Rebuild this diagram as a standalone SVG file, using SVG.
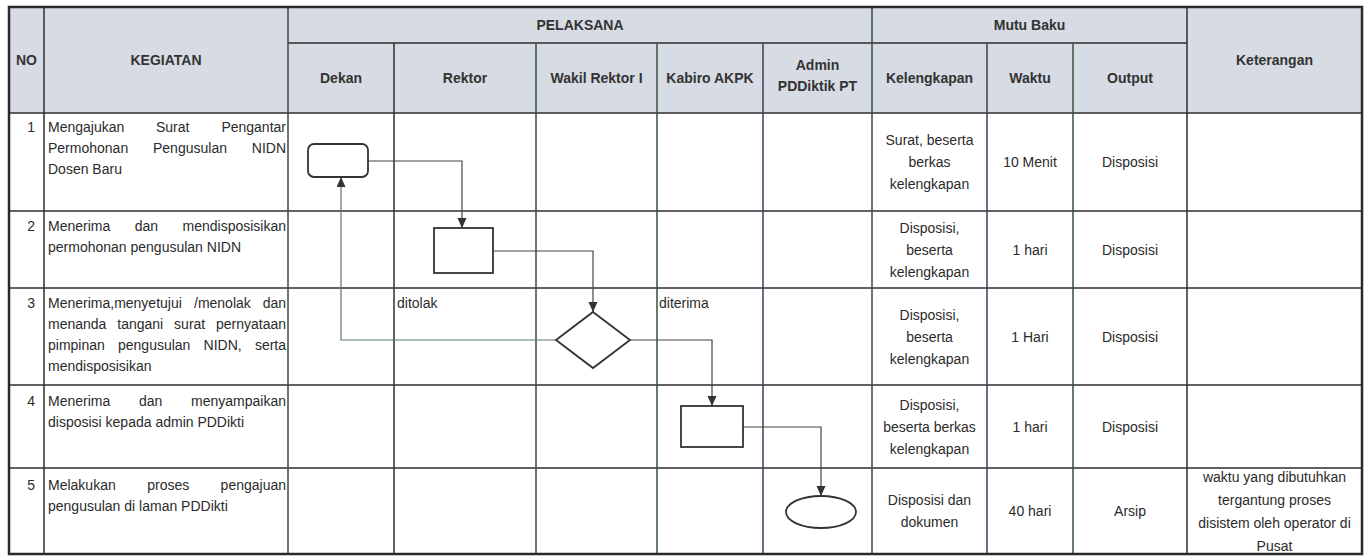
<svg xmlns="http://www.w3.org/2000/svg" width="1367" height="558" viewBox="0 0 1367 558">
<style>
  .t{font-family:"Liberation Sans",Arial,sans-serif;font-size:14px;fill:#2b2b2b}
  .h{font-family:"Liberation Sans",Arial,sans-serif;font-size:14px;font-weight:bold;fill:#333}
  .c{text-anchor:middle}
  .e{text-anchor:end}
  .grid{stroke:#2e2e2e;stroke-width:1.5;fill:none}
  .gg{stroke:#35503d;stroke-width:1.5;fill:none}
  .gp{stroke:#45395a;stroke-width:1.5;fill:none}
  .shape{fill:#fff;stroke:#333;stroke-width:1.8}
  .conn{fill:none;stroke:#444;stroke-width:1.2}
  .back{fill:none;stroke:#5b7b63;stroke-width:1.2}
</style>
<defs>
  <marker id="arr" markerUnits="userSpaceOnUse" markerWidth="10" markerHeight="12" refX="10" refY="4.5" orient="auto">
    <path d="M0,0 L10,4.5 L0,9 z" fill="#333"/>
  </marker>
</defs>
<rect x="0" y="0" width="1367" height="558" fill="#fff"/>
<g id="table">
  <rect x="9" y="7" width="1353" height="106" fill="#d7dbe3"/>
  <rect x="9" y="113" width="1353" height="441" fill="#fff"/>
  <!-- horizontal lines -->
  <line class="grid" x1="288" y1="43" x2="1187" y2="43"/>
  <line class="grid" x1="9" y1="113" x2="1362" y2="113"/>
  <line class="grid" x1="9" y1="211" x2="1362" y2="211"/>
  <line class="grid" x1="9" y1="288" x2="1362" y2="288"/>
  <line class="grid" x1="9" y1="385" x2="1362" y2="385"/>
  <line class="grid" x1="9" y1="468" x2="1362" y2="468"/>
  <!-- vertical lines -->
  <line class="grid" x1="44" y1="7" x2="44" y2="554"/>
  <line class="gg" x1="288" y1="7" x2="288" y2="554"/>
  <line class="grid" x1="394" y1="43" x2="394" y2="554"/>
  <line class="gg" x1="536" y1="43" x2="536" y2="554"/>
  <line class="gg" x1="657" y1="43" x2="657" y2="554"/>
  <line class="gp" x1="763" y1="43" x2="763" y2="554"/>
  <line class="gg" x1="872" y1="7" x2="872" y2="554"/>
  <line class="gp" x1="987" y1="43" x2="987" y2="554"/>
  <line class="gg" x1="1073" y1="43" x2="1073" y2="554"/>
  <line class="grid" x1="1187" y1="7" x2="1187" y2="554"/>
  <rect x="9" y="7" width="1353" height="547" fill="none" stroke="#2a2a2a" stroke-width="2.5"/>
</g>
<g id="header">
  <text class="h c" x="26.5" y="65">NO</text>
  <text class="h c" x="166" y="65">KEGIATAN</text>
  <text class="h c" x="580" y="30">PELAKSANA</text>
  <text class="h c" x="1029.5" y="30">Mutu Baku</text>
  <text class="h c" x="1274.5" y="65">Keterangan</text>
  <text class="h c" x="341" y="83">Dekan</text>
  <text class="h c" x="465" y="83">Rektor</text>
  <text class="h c" x="596.5" y="83">Wakil Rektor I</text>
  <text class="h c" x="710" y="83">Kabiro AKPK</text>
  <text class="h c" x="817.5" y="70">Admin</text>
  <text class="h c" x="817.5" y="91">PDDiktik PT</text>
  <text class="h c" x="929.5" y="83">Kelengkapan</text>
  <text class="h c" x="1030" y="83">Waktu</text>
  <text class="h c" x="1130" y="83">Output</text>
</g>
<g id="row1">
  <text class="t e" x="35" y="132">1</text>
  <text class="t" y="132"><tspan x="48">Mengajukan</tspan><tspan x="156">Surat</tspan><tspan x="286" text-anchor="end">Pengantar</tspan></text>
  <text class="t" y="153"><tspan x="48">Permohonan</tspan><tspan x="153">Pengusulan</tspan><tspan x="286" text-anchor="end">NIDN</tspan></text>
  <text class="t" x="48" y="174">Dosen Baru</text>
  <text class="t c" x="929.5" y="145">Surat, beserta</text>
  <text class="t c" x="929.5" y="167">berkas</text>
  <text class="t c" x="929.5" y="189">kelengkapan</text>
  <text class="t c" x="1030" y="167">10 Menit</text>
  <text class="t c" x="1130" y="167">Disposisi</text>
</g>
<g id="row2">
  <text class="t e" x="35" y="231">2</text>
  <text class="t" y="231"><tspan x="48">Menerima</tspan><tspan x="134.7">dan</tspan><tspan x="286" text-anchor="end">mendisposisikan</tspan></text>
  <text class="t" x="48" y="252">permohonan pengusulan NIDN</text>
  <text class="t c" x="929.5" y="232.5">Disposisi,</text>
  <text class="t c" x="929.5" y="254.5">beserta</text>
  <text class="t c" x="929.5" y="276.5">kelengkapan</text>
  <text class="t c" x="1030" y="254.5">1 hari</text>
  <text class="t c" x="1130" y="254.5">Disposisi</text>
</g>
<g id="row3">
  <text class="t e" x="35" y="308">3</text>
  <text class="t" y="308"><tspan x="48">Menerima,menyetujui</tspan><tspan x="194">/menolak</tspan><tspan x="286" text-anchor="end">dan</tspan></text>
  <text class="t" y="329"><tspan x="48">menanda</tspan><tspan x="117.3">tangani</tspan><tspan x="174.1">surat</tspan><tspan x="286" text-anchor="end">pernyataan</tspan></text>
  <text class="t" y="350"><tspan x="48">pimpinan</tspan><tspan x="118">pengusulan</tspan><tspan x="203.6">NIDN,</tspan><tspan x="286" text-anchor="end">serta</tspan></text>
  <text class="t" x="48" y="371">mendisposisikan</text>
  <text class="t c" x="929.5" y="319.5">Disposisi,</text>
  <text class="t c" x="929.5" y="341.5">beserta</text>
  <text class="t c" x="929.5" y="363.5">kelengkapan</text>
  <text class="t c" x="1030" y="341.5">1 Hari</text>
  <text class="t c" x="1130" y="341.5">Disposisi</text>
</g>
<g id="row4">
  <text class="t e" x="35" y="406">4</text>
  <text class="t" y="406"><tspan x="48">Menerima</tspan><tspan x="139">dan</tspan><tspan x="286" text-anchor="end">menyampaikan</tspan></text>
  <text class="t" x="48" y="427">disposisi kepada admin PDDikti</text>
  <text class="t c" x="929.5" y="409.5">Disposisi,</text>
  <text class="t c" x="929.5" y="431.5">beserta berkas</text>
  <text class="t c" x="929.5" y="453.5">kelengkapan</text>
  <text class="t c" x="1030" y="431.5">1 hari</text>
  <text class="t c" x="1130" y="431.5">Disposisi</text>
</g>
<g id="row5">
  <text class="t e" x="35" y="490">5</text>
  <text class="t" y="490"><tspan x="48">Melakukan</tspan><tspan x="147.2">proses</tspan><tspan x="286" text-anchor="end">pengajuan</tspan></text>
  <text class="t" x="48" y="511">pengusulan di laman PDDikti</text>
  <text class="t c" x="929.5" y="505">Disposisi dan</text>
  <text class="t c" x="929.5" y="527">dokumen</text>
  <text class="t c" x="1030" y="516">40 hari</text>
  <text class="t c" x="1130" y="516">Arsip</text>
  <text class="t c" x="1274.5" y="482">waktu yang dibutuhkan</text>
  <text class="t c" x="1274.5" y="505">tergantung proses</text>
  <text class="t c" x="1274.5" y="528">disistem oleh operator di</text>
  <text class="t c" x="1274.5" y="551">Pusat</text>
</g>
<g id="connectors">
  <path class="conn" d="M368,161 H462 V228" marker-end="url(#arr)"/>
  <path class="conn" d="M493,251 H593 V312" marker-end="url(#arr)"/>
  <path class="back" d="M556,340 H341 V177" marker-end="url(#arr)"/>
  <path class="conn" d="M630,340 H712 V406" marker-end="url(#arr)"/>
  <path class="conn" d="M743,427 H821 V496" marker-end="url(#arr)"/>
  <text class="t" x="397" y="308">ditolak</text>
  <text class="t" x="659" y="308">diterima</text>
</g>
<g id="node-start"><rect class="shape" x="308" y="144" width="60" height="33" rx="6"/></g>
<g id="node-rektor"><rect class="shape" x="434" y="228" width="59" height="45"/></g>
<g id="node-decision"><polygon class="shape" points="593,312 630,340 593,368 556,340"/></g>
<g id="node-kabiro"><rect class="shape" x="681" y="406" width="62" height="41"/></g>
<g id="node-end"><ellipse class="shape" cx="821" cy="512" rx="35" ry="16"/></g>
</svg>
